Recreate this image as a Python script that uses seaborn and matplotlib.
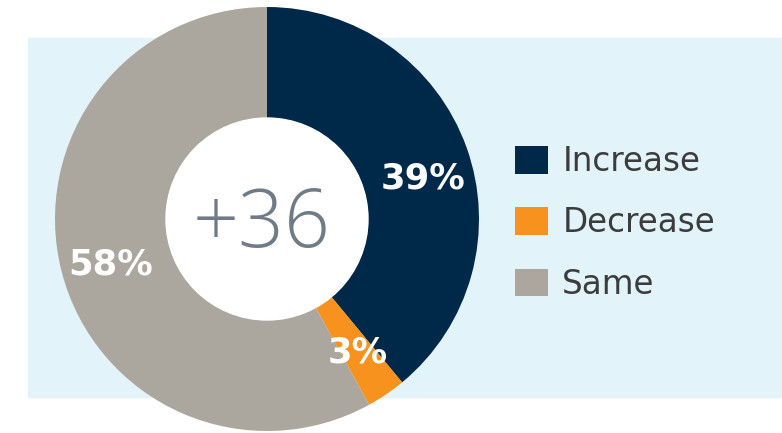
import matplotlib.pyplot as plt
import matplotlib.patches as mpatches
import seaborn as sns

# data
categories = ['Increase', 'Decrease', 'Same']
shares = [39, 3, 58]
colors = ['#002849', '#F7921E', '#ACA79E']
net_score = '+36'

sns.set_theme(style='white')
plt.rcParams['font.family'] = ['DejaVu Sans']

W, H = 782, 433
fig = plt.figure(figsize=(W / 100, H / 100), dpi=100)
ax = fig.add_axes([0, 0, 1, 1])

# light blue panel behind the chart
ax.add_patch(mpatches.Rectangle((28, H - 397), W - 28, 359, color='#E2F4F9', zorder=0))

cx, cy = 267, H - 219
r_out, r_in = 212, 101
wedges, texts, autotexts = ax.pie(
    shares, colors=colors, startangle=90, counterclock=False,
    center=(cx, cy), radius=r_out,
    wedgeprops=dict(width=r_out - r_in, linewidth=0),
    autopct=lambda p: f'{p:.0f}%', pctdistance=0.76,
    textprops=dict(color='white', fontsize=25.5, fontweight='bold'))

# small nudges so labels sit where the original puts them
x0, y0 = autotexts[0].get_position()
autotexts[0].set_position((x0 + 4, y0 - 14))
x2, y2 = autotexts[2].get_position()
autotexts[2].set_position((x2, y2 - 5))

# white hole with the net score
ax.add_patch(mpatches.Circle((cx, cy), r_in, color='white', zorder=3))
ax.text(cx - 5, cy - 7, net_score, ha='center', va='center', fontsize=58,
        family=['Open Sans', 'DejaVu Sans'], fontweight='light', color='#6f7b87', zorder=4)

ax.set_xlim(0, W)
ax.set_ylim(0, H)
ax.set_aspect('equal')
ax.axis('off')

leg = ax.legend(wedges, categories, loc='center left',
                bbox_to_anchor=(515 / W, 1 - 223 / H), frameon=False,
                fontsize=23.5, handlelength=1.0, handleheight=0.92,
                handletextpad=0.45, labelspacing=0.87,
                borderpad=0, borderaxespad=0)
for t in leg.get_texts():
    t.set_color('#3c3c3c')

fig.savefig('out.png', dpi=100, facecolor='white')
